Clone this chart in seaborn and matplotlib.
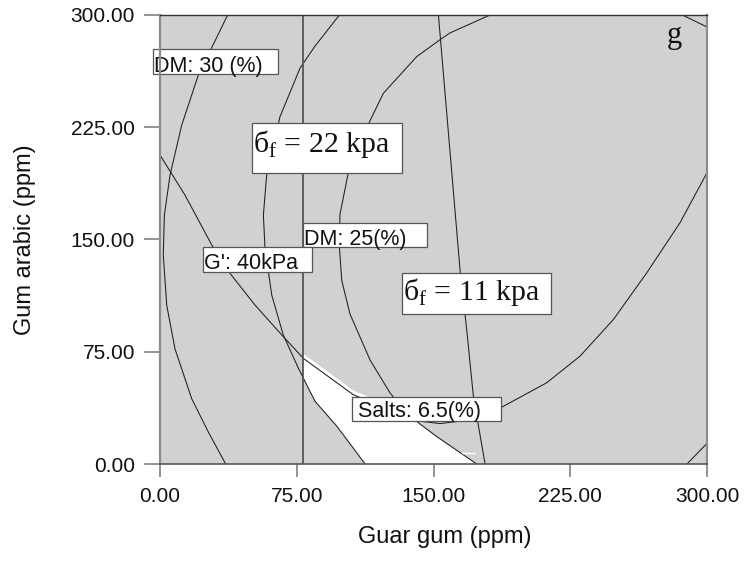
import numpy as np
import matplotlib
matplotlib.use("Agg")
import matplotlib.pyplot as plt
from matplotlib.patches import Rectangle
import seaborn as sns

# ---------------- data ----------------
x_ticks = [0, 75, 150, 225, 300]
y_ticks = [0, 75, 150, 225, 300]

# left arc
arc_a_x = [37.1, 21.0, 11.9, 5.5, 2.4, 1.8, 3.7, 8.2, 17.4, 26.5, 36.0]
arc_a_y = [300, 259.8, 226.4, 193.0, 166.3, 139.6, 106.0, 77.0, 43.6, 21.4, 0]

# middle arc
arc_b_x = [98.4, 85.0, 76.8, 65.8, 58.5, 56.7, 57.6, 61.3, 67.6, 75.9, 85.0, 96.9, 112.5]
arc_b_y = [300, 279.2, 264.5, 232.0, 193.0, 166.3, 144.1, 112.8, 86.2, 64.0, 41.9, 25.4, 0]

# right "C" arc
arc_c_x = [181.0, 159.0, 153.6, 140.8, 122.5, 115.2, 103.3, 98.7, 98.4, 99.7, 104.2, 115.2, 126.2, 137.1, 151.8, 173.7]
arc_c_y = [300, 288.0, 283.5, 272.2, 247.7, 229.4, 194.8, 166.8, 144.6, 122.5, 100.2, 69.5, 47.4, 31.8, 18.3, 0]

# vertical contour
vert_x = [78.3, 78.3]
vert_y = [0, 300]

# nearly vertical contour
nv_x = [152.7, 164.6, 168.2, 171.9, 178.3]
nv_y = [300, 129.0, 89.9, 44.8, 0]

# U-shaped contour (G' / salts)
u_x = [0, 13.7, 28.4, 38.4, 52.1, 66.8, 78.6, 106.0, 140.8, 153.6, 166.4, 186.9, 212.1, 230.4, 248.7, 267.0, 285.2, 300.0]
u_y = [206.4, 179.7, 146.3, 127.4, 106.2, 86.2, 70.6, 46.3, 28.9, 27.0, 28.9, 37.6, 54.3, 72.1, 96.6, 127.8, 161.2, 194.6]

# corner arcs
tr_x = [286.5, 300]
tr_y = [300, 292]
br_x = [289, 300]
br_y = [0, 13.8]

# tiny white artefact
dash_x = [165.5, 172.8]
dash_y = [7.1, 7.1]

# ---------------- style ----------------
sns.set_theme(style="white")
plt.rcParams["font.family"] = ["Liberation Sans", "DejaVu Sans"]

fig = plt.figure(figsize=(7.44, 5.77), dpi=100)
ax = fig.add_axes([160 / 744, 1 - 464 / 577, 547 / 744, 449 / 577])
ax.set_facecolor("#d1d1d1")
ax.set_xlim(0, 300)
ax.set_ylim(0, 300)

# white feasible region
lower_c = arc_c_x.index(98.4)
xs = np.linspace(78.3, 173.7, 600)
top = np.minimum(np.interp(xs, u_x, u_y) + 3.0,
                 np.interp(xs, arc_c_x[lower_c:], arc_c_y[lower_c:]))
bot = np.interp(xs, arc_b_x[9:], arc_b_y[9:], right=0.0)
ax.fill_between(xs, bot, top, where=top > bot, color="white", lw=0, zorder=1)

line_kw = dict(sort=False, estimator=None, legend=False, ax=ax)
for cx, cy in [(arc_a_x, arc_a_y), (arc_b_x, arc_b_y), (arc_c_x, arc_c_y),
               (nv_x, nv_y), (u_x, u_y), (tr_x, tr_y), (br_x, br_y)]:
    sns.lineplot(x=cx, y=cy, color="#1e1e1e", linewidth=0.75, zorder=2, **line_kw)
sns.lineplot(x=vert_x, y=vert_y, color="#555555", linewidth=1.3, zorder=2, **line_kw)
sns.lineplot(x=dash_x, y=dash_y, color="white", linewidth=1.0, zorder=2, **line_kw)

# label boxes: (x0, x1, y0, y1), text, text x, text baseline y, font
boxes = [
    ((-3.7, 64.6, 260.6, 277.1), "DM: 30 (%)", -3.1, 262.1, "sans"),
    ((78.3, 146.3, 144.8, 161.2), "DM: 25(%)", 79.0, 146.3, "sans"),
    ((23.8, 83.2, 128.3, 144.8), "G': 40kPa", 24.3, 130.1, "sans"),
    ((105.2, 186.9, 28.9, 45.0), "Salts: 6.5(%)", 108.8, 31.2, "sans"),
    ((50.6, 132.6, 194.2, 227.6), "б$_\\mathregular{f}$ = 22 kpa", 51.2, 208.7, "serif"),
    ((132.6, 214.3, 100.2, 127.8), "б$_\\mathregular{f}$ = 11 kpa", 133.1, 109.6, "serif"),
]
for (x0, x1, y0, y1), txt, tx, ty, kind in boxes:
    ax.add_patch(Rectangle((x0, y0), x1 - x0, y1 - y0, facecolor="white",
                           edgecolor="#555555", linewidth=0.9, zorder=5, clip_on=False))
    if kind == "sans":
        ax.text(tx, ty, txt, fontsize=15.5, ha="left", va="baseline", color="#111111",
                family=["Liberation Sans", "DejaVu Sans"], zorder=6, clip_on=False)
    else:
        ax.text(tx, ty, txt, fontsize=21.5, ha="left", va="baseline", color="#111111",
                family=["Liberation Serif", "DejaVu Serif"], zorder=6, clip_on=False)

ax.text(282, 281.3, "g", fontsize=22, ha="center", va="baseline",
        family=["Liberation Serif", "DejaVu Serif"], color="#111111", zorder=6)

# axes / ticks
ax.set_xticks(x_ticks)
ax.set_yticks(y_ticks)
ax.set_xticklabels([f"{v:.2f}" for v in x_ticks])
ax.set_yticklabels([f"{v:.2f}" for v in y_ticks])
ax.tick_params(axis="y", direction="out", length=11.5, width=1.2, color="#808080",
               labelsize=15, pad=6.5, left=True, labelcolor="#111111")
ax.tick_params(axis="x", direction="out", length=9.5, width=1.2, color="#808080",
               labelsize=15, pad=7, bottom=True, labelcolor="#111111")
for side in ["left", "right"]:
    ax.spines[side].set_color("#8c8c8c")
    ax.spines[side].set_linewidth(1.6)
ax.spines["bottom"].set_color("#555555")
ax.spines["bottom"].set_linewidth(1.2)
ax.spines["top"].set_color("#333333")
ax.spines["top"].set_linewidth(1.0)
for s in ax.spines.values():
    s.set_zorder(7)

ax.set_xlabel("Guar gum (ppm)", fontsize=17, color="#111111", va="center")
ax.set_ylabel("Gum arabic (ppm)", fontsize=17, color="#111111", va="center")
ax.xaxis.set_label_coords(0.521, -0.163)
ax.yaxis.set_label_coords(-0.247, 0.5)

fig.savefig("out.png", dpi=100)
